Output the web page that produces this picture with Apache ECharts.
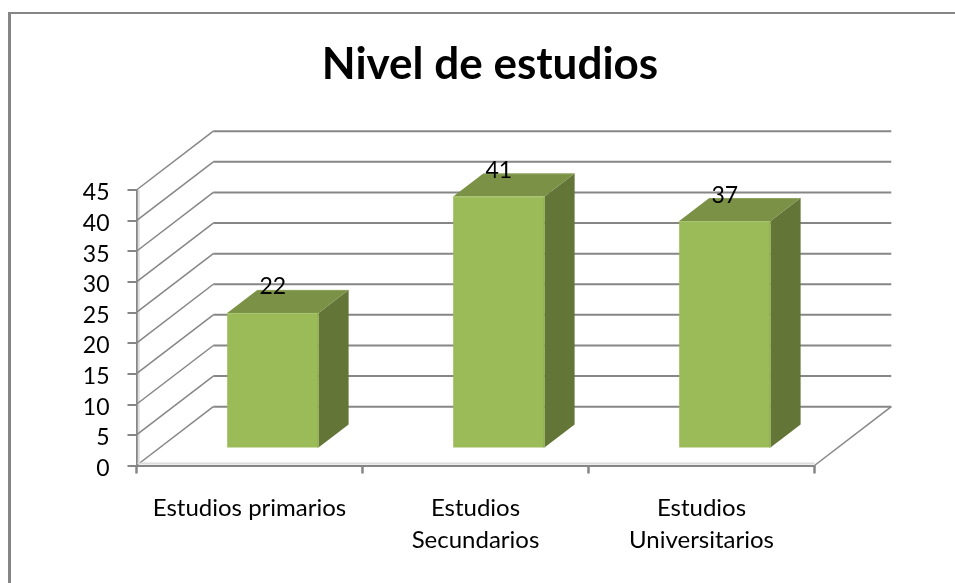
<!DOCTYPE html>
<html><head><meta charset="utf-8">
<style>html,body{margin:0;padding:0;background:#fff}#c{width:955px;height:583px}</style>
<script src="https://cdn.jsdelivr.net/npm/echarts@6/dist/echarts.min.js"></script>
</head><body><div id="c"></div>
<script>
const titleText = 'Nivel de estudios';
const categories = ['Estudios primarios', 'Estudios\nSecundarios', 'Estudios\nUniversitarios'];
const values = [22, 41, 37];
const yTicks = [0, 5, 10, 15, 20, 25, 30, 35, 40, 45];

const WALL = [76.8, -58.8];
const BAR_NEAR = 0.304, BAR_FAR = 0.696;
const FONT = 'Lato';
const LINE = '#868686';

function line(x1, y1, x2, y2, stroke, w) {
  return {type: 'line', silent: true, shape: {x1, y1, x2, y2}, style: {stroke, lineWidth: w}};
}
function gridItem(params, api) {
  const cs = params.coordSys;
  const v = api.value(0);
  const y = api.coord([0, v])[1];
  const left = cs.x, right = cs.x + cs.width;
  const kids = [
    line(left, y, left + WALL[0], y + WALL[1], LINE, 1.5),
    line(left + WALL[0], y + WALL[1], right + WALL[0], y + WALL[1], LINE, 2)
  ];
  if (v === 0) {
    kids.push(line(right, y, right + WALL[0], y + WALL[1], LINE, 1.5));
    kids.push(line(left + 1, y - 2, right, y - 2, '#dcdcdc', 2));
    kids.push(line(left + 2.2, cs.y, left + 2.2, y - 2, '#dcdcdc', 2));
  }
  return {type: 'group', children: kids};
}
function barItem(params, api) {
  const c = api.value(0), v = api.value(1);
  const p0 = api.coord([c, 0]), p1 = api.coord([c, v]);
  const w = api.size([1, 0])[0] * 0.404;
  const nx = WALL[0] * BAR_NEAR, ny = WALL[1] * BAR_NEAR;
  const dx = WALL[0] * (BAR_FAR - BAR_NEAR), dy = WALL[1] * (BAR_FAR - BAR_NEAR);
  const cx = p0[0] + nx;
  const l = cx - w / 2, r = cx + w / 2, b = p0[1] + ny, t = p1[1] + ny;
  const poly = (points, fill) => ({type: 'polygon', shape: {points}, style: {fill}});
  return {type: 'group', children: [
    poly([[r, b], [r + dx, b + dy], [r + dx, t + dy], [r, t]], '#647538'),
    poly([[l, t], [r, t], [r + dx, t + dy], [l + dx, t + dy]], '#7a9146'),
    poly([[l, t], [r, t], [r, b], [l, b]], '#9bbb59'),
    line(l, t + 0.5, r, t + 0.5, '#a9c571', 1),
    line(r - 0.5, t, r - 0.5, b, '#8eab52', 1),
    line(l + dx, t + dy + 0.5, r + dx, t + dy + 0.5, '#8fa45f', 1),
    {type: 'text', z2: 10, style: {
      text: String(v), x: cx, y: t - 26, align: 'center', verticalAlign: 'middle',
      font: '23px ' + FONT, fill: '#000'
    }}
  ]};
}

const chart = echarts.init(document.getElementById('c'), null, {renderer: 'canvas'});
chart.setOption({
  animation: false,
  backgroundColor: '#fff',
  title: {
    text: titleText, left: 485, top: 38, textAlign: 'center',
    textStyle: {fontFamily: FONT, fontWeight: 'bold', fontSize: 44, color: '#000'}
  },
  grid: {left: 136.5, right: 140.5, top: 190, bottom: 117.5},
  xAxis: {
    type: 'category', data: categories,
    axisLine: {lineStyle: {color: LINE, width: 2}},
    axisTick: {show: true, length: 8, lineStyle: {color: LINE, width: 2.5}},
    axisLabel: {color: '#000', fontFamily: FONT, fontSize: 24, margin: 26.5, lineHeight: 32, interval: 0}
  },
  yAxis: {
    type: 'value', min: 0, max: 45, interval: 5,
    splitLine: {show: false},
    axisLine: {show: true, lineStyle: {color: LINE, width: 2}},
    axisTick: {show: true, length: 9, lineStyle: {color: LINE, width: 2}},
    axisLabel: {
      color: '#000', fontFamily: FONT, fontSize: 23, margin: 27,
      formatter: '{n|{value}}',
      rich: {n: {color: '#000', fontFamily: FONT, fontSize: 23, padding: [6, 0, 0, 0]}}
    }
  },
  graphic: [
    {type: 'rect', shape: {x: 8, y: 12, width: 947, height: 2}, style: {fill: LINE}, silent: true},
    {type: 'rect', shape: {x: 8, y: 12, width: 3, height: 571}, style: {fill: LINE}, silent: true}
  ],
  series: [
    {type: 'custom', name: 'grid', data: yTicks.map(v => [v]), encode: {y: 0}, renderItem: gridItem, silent: true, z: 1},
    {type: 'custom', name: 'bars', data: values.map((v, i) => [i, v]), encode: {x: 0, y: 1}, renderItem: barItem, silent: true, z: 5}
  ]
});
</script></body></html>
